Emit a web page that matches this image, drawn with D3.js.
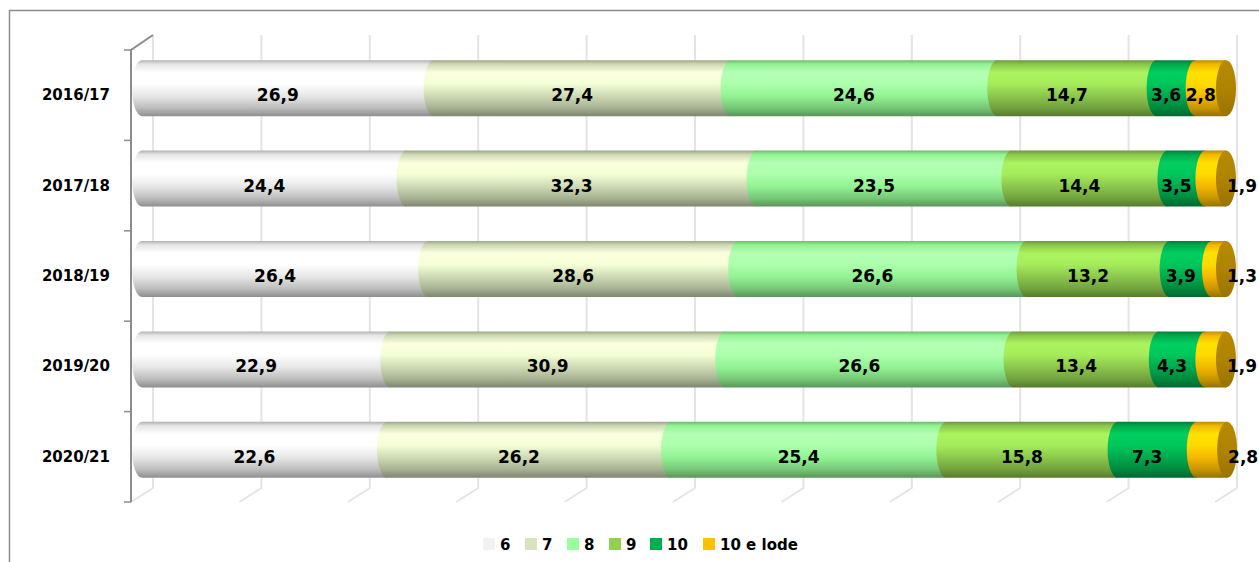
<!DOCTYPE html>
<html>
<head>
<meta charset="utf-8">
<script src="https://cdn.jsdelivr.net/npm/d3@7"></script>
<style>
  body { margin: 0; background: #fff; }
  text { font-family: "DejaVu Sans", Verdana, sans-serif; font-weight: bold; fill: #000; }
</style>
</head>
<body>
<script>
// data
var years = ["2016/17", "2017/18", "2018/19", "2019/20", "2020/21"];
var grades = ["6", "7", "8", "9", "10", "10 e lode"];
var g6 = [26.9, 24.4, 26.4, 22.9, 22.6];
var g7 = [27.4, 32.3, 28.6, 30.9, 26.2];
var g8 = [24.6, 23.5, 26.6, 26.6, 25.4];
var g9 = [14.7, 14.4, 13.2, 13.4, 15.8];
var g10 = [3.6, 3.5, 3.9, 4.3, 7.3];
var gLode = [2.8, 1.9, 1.3, 1.9, 2.8];
var xTicks = [0, 10, 20, 30, 40, 50, 60, 70, 80, 90, 100];

var colors = ["#f2f2f2", "#d7e4bd", "#99ff99", "#92d050", "#00b050", "#ffc000"];
// labels of the last segment that Excel pushed out past the cap
var outsideLabels = ["2017/18", "2018/19", "2019/20", "2020/21"];

var W = 1259, H = 562;
var series = [g6, g7, g8, g9, g10, gLode];

var svg = d3.select("body").append("svg")
    .attr("width", W)
    .attr("height", H);

// chart frame
svg.append("rect")
    .attr("x", 9.5).attr("y", 10.5)
    .attr("width", 1400).attr("height", 700)
    .attr("fill", "none")
    .attr("stroke", "#8c8c8c")
    .attr("stroke-width", 1.5);

// scales: front (bars) and back wall (gridlines)
var x = d3.scaleLinear().domain([0, 100]).range([142, 1226]);
var xBack = d3.scaleLinear().domain([0, 100]).range([153, 1237]);
var y = d3.scaleBand().domain(years).range([43, 495]).paddingInner(0.38).paddingOuter(0.19);
var depthX = -22, depthY = 14;
var backTop = 35, backBottom = 488;

// gridlines on back wall + floor
var grid = svg.append("g");
grid.selectAll(".vgrid")
  .data(xTicks)
  .enter().append("path")
    .attr("class", "vgrid")
    .attr("d", function(d) {
      var bx = xBack(d);
      return "M" + bx + "," + backTop + "V" + backBottom + "l" + depthX + "," + depthY;
    })
    .attr("fill", "none")
    .attr("stroke", "#e4e4e4")
    .attr("stroke-width", 2);

// left wall / axis
var axisX = 131, axisTop = 50, axisBottom = 502;
svg.append("path")
    .attr("d", "M" + axisX + "," + axisBottom + "V" + axisTop + "L" + xBack(0) + "," + backTop)
    .attr("fill", "none")
    .attr("stroke", "#8c8c8c")
    .attr("stroke-width", 2);

var tickYs = d3.range(years.length + 1).map(function(i) { return axisTop + i * (axisBottom - axisTop) / years.length; });
svg.selectAll(".ytick")
  .data(tickYs)
  .enter().append("line")
    .attr("class", "ytick")
    .attr("x1", axisX - 7).attr("x2", axisX)
    .attr("y1", function(d) { return d; })
    .attr("y2", function(d) { return d; })
    .attr("stroke", "#8c8c8c")
    .attr("stroke-width", 1.5);

// cylinder shading gradients
var defs = svg.append("defs");
colors.forEach(function(c, i) {
  var base = d3.color(c);
  var stops = [
    [0, base.darker(0.9)],
    [0.07, base.darker(0.15)],
    [0.22, base.brighter(0.45)],
    [0.42, base.brighter(0.35)],
    [0.65, base.darker(0.15)],
    [0.85, base.darker(0.7)],
    [1, base.darker(1.5)]
  ];
  var grad = defs.append("linearGradient")
      .attr("id", "cyl" + i)
      .attr("x1", 0).attr("y1", 0).attr("x2", 0).attr("y2", 1);
  stops.forEach(function(s) {
    grad.append("stop").attr("offset", s[0]).attr("stop-color", s[1].formatHex());
  });
});
var capGrad = defs.append("linearGradient")
    .attr("id", "cap")
    .attr("x1", 0).attr("y1", 0).attr("x2", 0).attr("y2", 1);
capGrad.append("stop").attr("offset", 0).attr("stop-color", "#b78a00");
capGrad.append("stop").attr("offset", 0.5).attr("stop-color", "#b08300");
capGrad.append("stop").attr("offset", 1).attr("stop-color", "#9a7200");

// build stacked rows
var rows = years.map(function(yr, i) {
  var acc = 0;
  return series.map(function(s, j) {
    var seg = {year: yr, grade: grades[j], index: j, value: s[i], x0: acc, x1: acc + s[i]};
    acc += s[i];
    return seg;
  });
});

var rx = 10;
var bh = y.bandwidth();

var row = svg.selectAll(".row")
  .data(rows)
  .enter().append("g")
    .attr("class", "row")
    .attr("transform", function(d) { return "translate(0," + y(d[0].year) + ")"; });

row.selectAll(".seg")
  .data(function(d) { return d; })
  .enter().append("path")
    .attr("class", "seg")
    .attr("d", function(d) {
      var xs = x(d.x0), xe = x(d.x1);
      return "M" + xe + ",0H" + xs +
        "A" + rx + "," + (bh / 2) + " 0 0 0 " + xs + "," + bh +
        "H" + xe + "Z";
    })
    .attr("fill", function(d) { return "url(#cyl" + d.index + ")"; });

// end cap
row.append("ellipse")
    .attr("cx", function(d) { return x(d[d.length - 1].x1); })
    .attr("cy", bh / 2)
    .attr("rx", rx)
    .attr("ry", bh / 2)
    .attr("fill", "url(#cap)");

// value labels
row.selectAll(".val")
  .data(function(d) { return d; })
  .enter().append("text")
    .attr("class", "val")
    .attr("x", function(d) {
      if (d.index === grades.length - 1 && outsideLabels.indexOf(d.year) >= 0) return x(d.x1) + 1;
      return x((d.x0 + d.x1) / 2) - rx;
    })
    .attr("y", bh / 2 + 13)
    .attr("text-anchor", function(d) {
      return (d.index === grades.length - 1 && outsideLabels.indexOf(d.year) >= 0) ? "start" : "middle";
    })
    .style("font-size", "17px")
    .text(function(d) { return d3.format(".1f")(d.value).replace(".", ","); });

// category labels
svg.selectAll(".cat")
  .data(years)
  .enter().append("text")
    .attr("class", "cat")
    .attr("x", 110)
    .attr("y", function(d) { return y(d) + bh / 2 + 12; })
    .attr("text-anchor", "end")
    .style("font-size", "15px")
    .text(function(d) { return d; });

// legend
var legendX = [483, 525, 567, 609, 650, 703];
var legend = svg.selectAll(".legend")
  .data(grades)
  .enter().append("g")
    .attr("class", "legend")
    .attr("transform", function(d, i) { return "translate(" + legendX[i] + ",538)"; });
legend.append("rect")
    .attr("width", 12).attr("height", 12)
    .attr("fill", function(d, i) { return colors[i]; });
legend.append("text")
    .attr("x", 17).attr("y", 12)
    .style("font-size", "15px")
    .text(function(d) { return d; });
</script>
</body>
</html>
